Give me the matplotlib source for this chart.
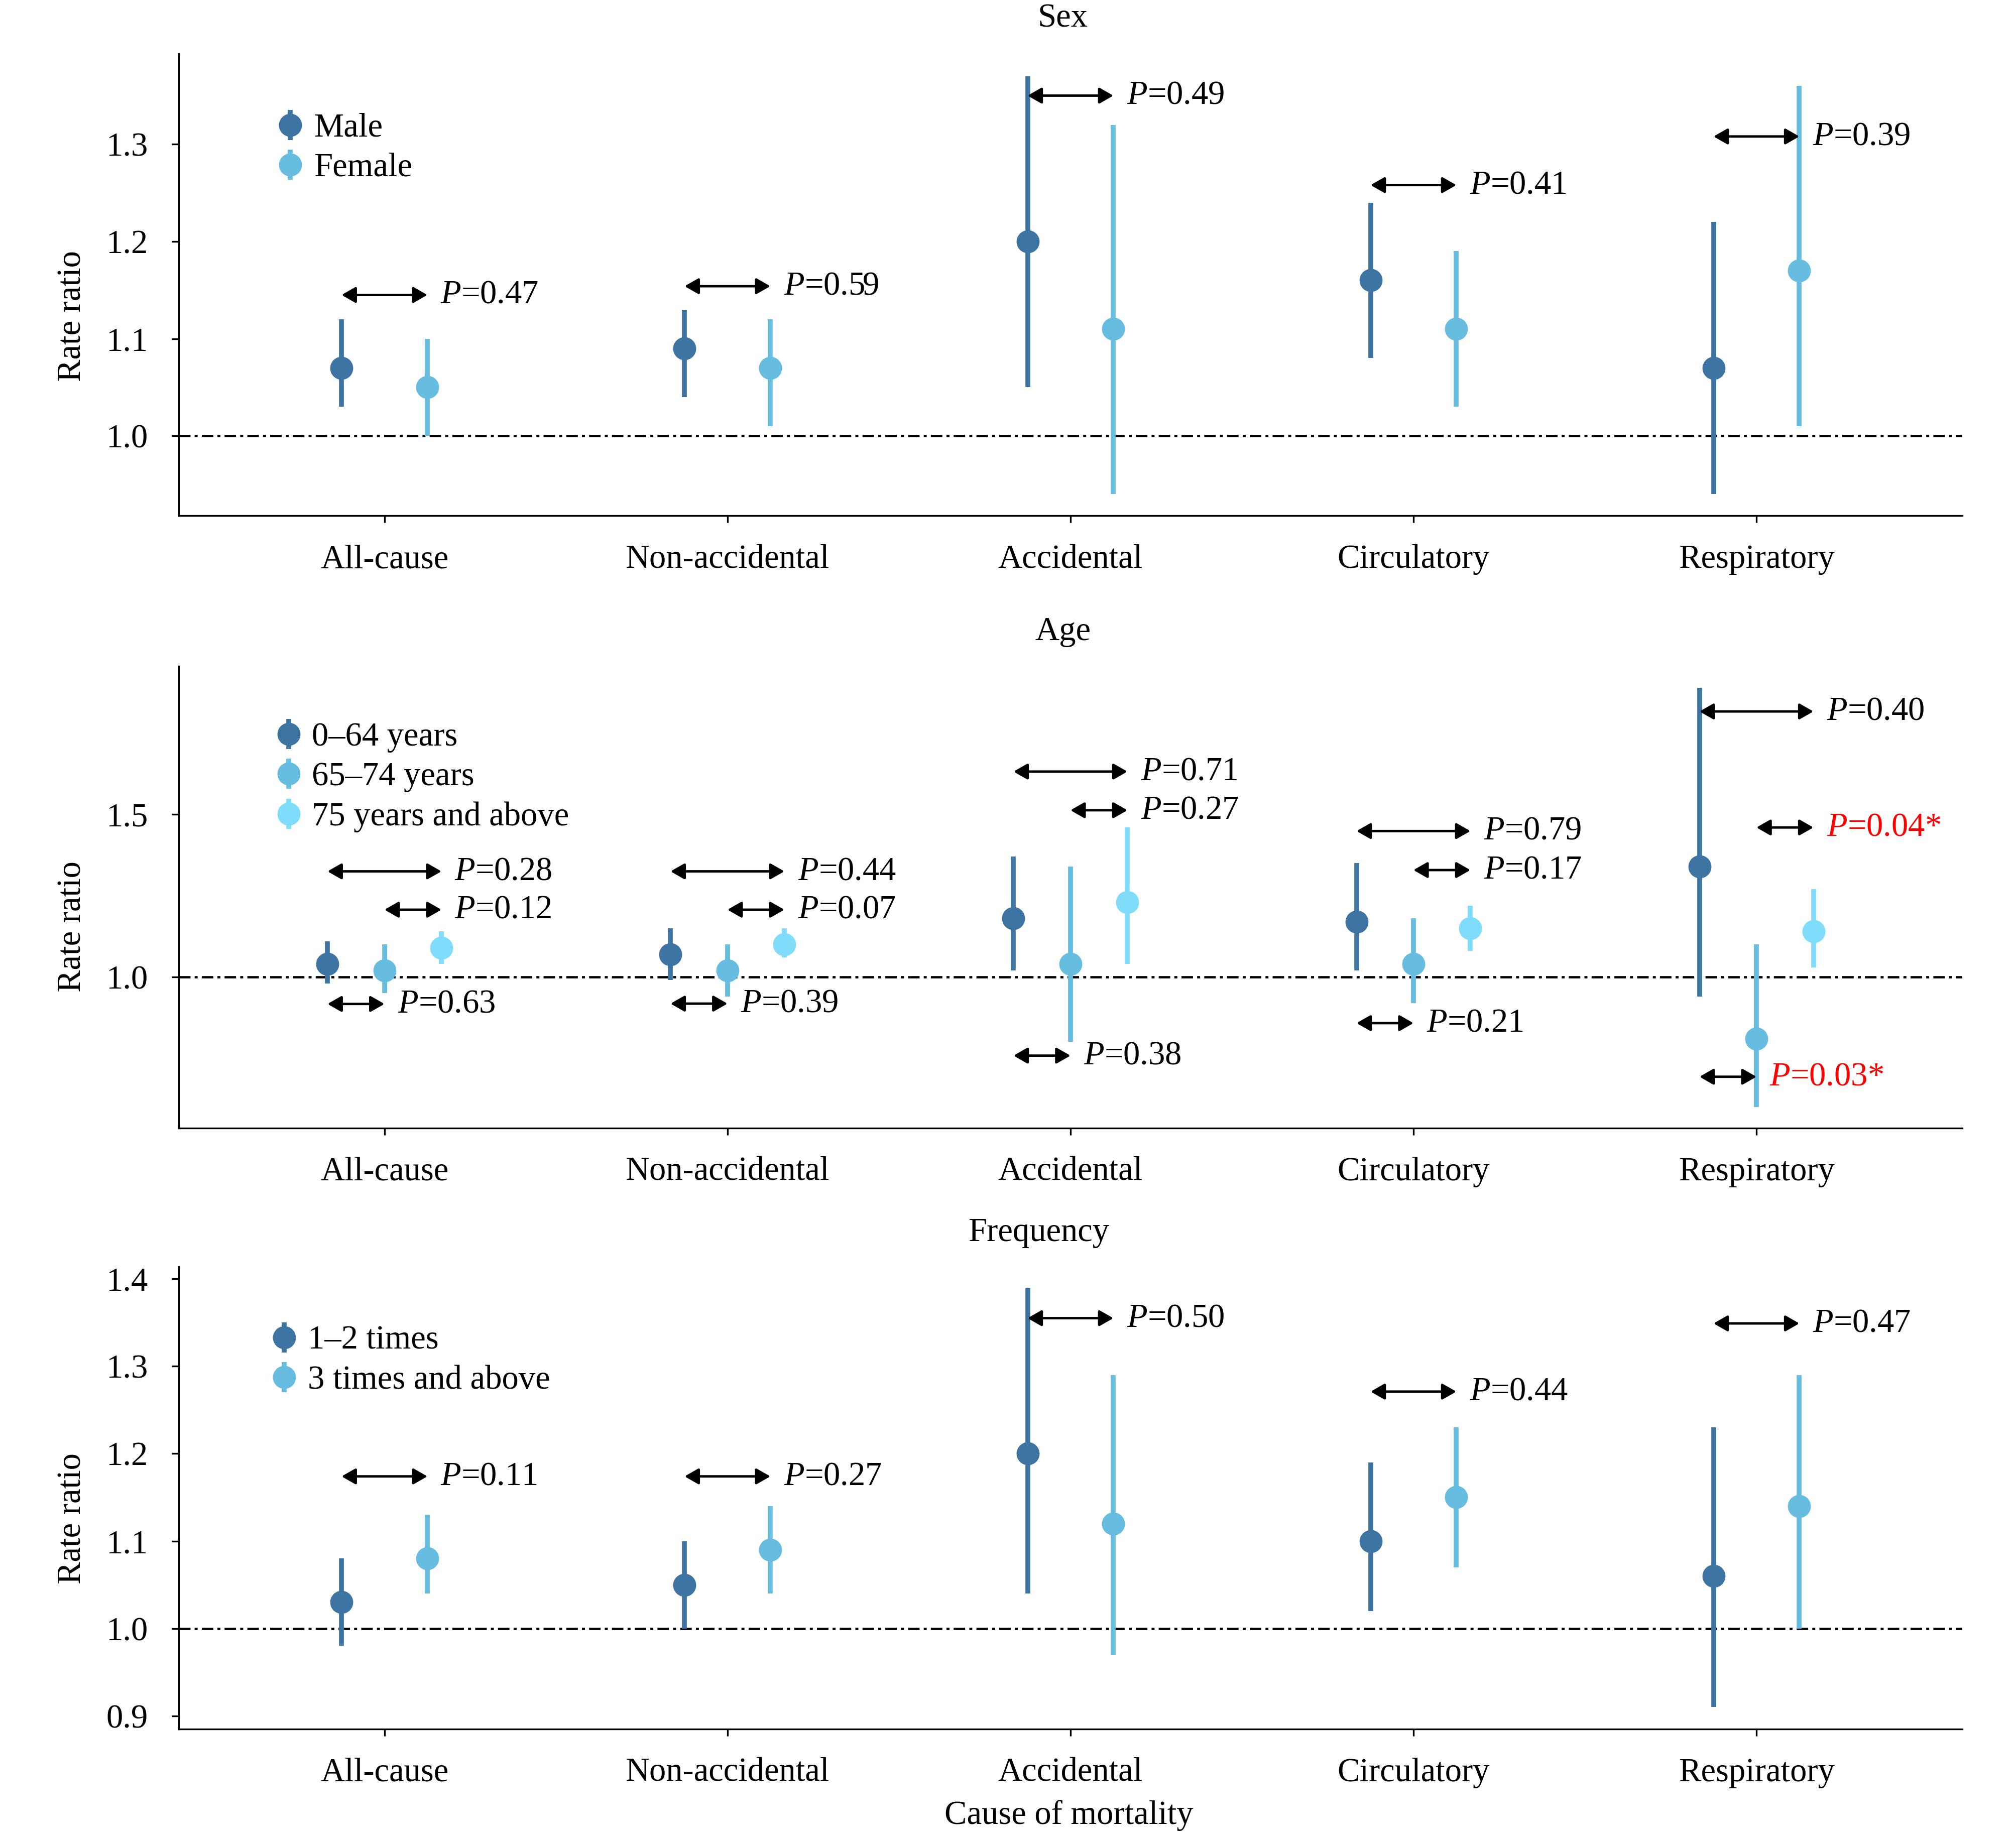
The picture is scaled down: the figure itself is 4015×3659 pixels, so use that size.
# rate ratio panels by sex, age and frequency
import matplotlib.pyplot as plt
from matplotlib.container import ErrorbarContainer
from matplotlib.legend_handler import HandlerErrorbar

plt.rcParams['font.family'] = ['Liberation Serif', 'DejaVu Serif']
plt.rcParams['mathtext.fontset'] = 'custom'
plt.rcParams['mathtext.rm'] = 'Liberation Serif'
plt.rcParams['mathtext.it'] = 'Liberation Serif:italic'

causes = ["All-cause", "Non-accidental", "Accidental", "Circulatory", "Respiratory"]

# sex
sex_groups = ["Male", "Female"]
sex_rr = [[1.07, 1.09, 1.20, 1.16, 1.07], [1.05, 1.07, 1.11, 1.11, 1.17]]
sex_lo = [[1.03, 1.04, 1.05, 1.08, 0.94], [1.00, 1.01, 0.94, 1.03, 1.01]]
sex_hi = [[1.12, 1.13, 1.37, 1.24, 1.22], [1.10, 1.12, 1.32, 1.19, 1.36]]
sex_p = ["0.47", "0.59", "0.49", "0.41", "0.39"]
sex_p_y = [1.145, 1.154, 1.35, 1.258, 1.308]

# age
age_groups = ["0\u201364 years", "65\u201374 years", "75 years and above"]
age_rr = [[1.04, 1.07, 1.18, 1.17, 1.34],
          [1.02, 1.02, 1.04, 1.04, 0.81],
          [1.09, 1.10, 1.23, 1.15, 1.14]]
age_lo = [[0.98, 0.99, 1.02, 1.02, 0.94],
          [0.95, 0.94, 0.80, 0.92, 0.60],
          [1.04, 1.06, 1.04, 1.08, 1.03]]
age_hi = [[1.11, 1.15, 1.37, 1.35, 1.89],
          [1.10, 1.10, 1.34, 1.18, 1.10],
          [1.14, 1.15, 1.46, 1.22, 1.27]]
# comparisons: (from group, to group)
age_pairs = [(0, 2), (1, 2), (0, 1)]
age_p = [["0.28", "0.44", "0.71", "0.79", "0.40"],
         ["0.12", "0.07", "0.27", "0.17", "0.04*"],
         ["0.63", "0.39", "0.38", "0.21", "0.03*"]]
age_p_y = [[1.325, 1.325, 1.632, 1.449, 1.817],
           [1.207, 1.207, 1.513, 1.329, 1.460],
           [0.917, 0.918, 0.758, 0.858, 0.693]]

# frequency
freq_groups = ["1\u20132 times", "3 times and above"]
freq_rr = [[1.03, 1.05, 1.20, 1.10, 1.06], [1.08, 1.09, 1.12, 1.15, 1.14]]
freq_lo = [[0.98, 1.00, 1.04, 1.02, 0.91], [1.04, 1.04, 0.97, 1.07, 1.00]]
freq_hi = [[1.08, 1.10, 1.39, 1.19, 1.23], [1.13, 1.14, 1.29, 1.23, 1.29]]
freq_p = ["0.11", "0.27", "0.50", "0.44", "0.47"]
freq_p_y = [1.174, 1.174, 1.355, 1.271, 1.349]

colors = ["#3e74a1", "#67bde0", "#7fdcfa"]
FS = 48


def panel(ax, groups, rr, lo, hi, offsets, ylim, yticks, leg_anchor, ylab_y):
    x = list(range(len(causes)))
    for g in range(len(groups)):
        xs = [xi + offsets[g] for xi in x]
        err = [[r - l for r, l in zip(rr[g], lo[g])], [h - r for r, h in zip(rr[g], hi[g])]]
        ax.errorbar(xs, rr[g], yerr=err, fmt='o', color=colors[g], ms=32,
                    elinewidth=7, capsize=0, label=groups[g], zorder=3)
    ax.axhline(1.0, color='black', lw=3.3, ls=(0, (5, 1.8, 1.3, 1.8)), zorder=1)
    ax.set_xlim(-0.6, 4.6)
    ax.set_ylim(*ylim)
    ax.set_yticks(yticks)
    ax.set_yticklabels([f"{t:.1f}" for t in yticks])
    ax.set_xticks(x)
    ax.set_xticklabels(causes)
    for s in ['top', 'right']:
        ax.spines[s].set_visible(False)
    for s in ['left', 'bottom']:
        ax.spines[s].set_linewidth(2.4)
    ax.tick_params(axis='both', labelsize=FS, length=10, width=2.4)
    ax.tick_params(axis='y', pad=34)
    ax.tick_params(axis='x', pad=31)
    ax.set_ylabel("Rate ratio", fontsize=FS)
    ax.yaxis.set_label_coords(-0.051, ylab_y)
    ax.legend(loc='upper left', bbox_to_anchor=leg_anchor, frameon=False, fontsize=FS,
              handlelength=0.6, handletextpad=0.4, borderpad=0, borderaxespad=0,
              labelspacing=0.27,
              handler_map={ErrorbarContainer: HandlerErrorbar(xerr_size=0.45)})


def p_arrow(ax, x0, x1, y, label):
    ax.annotate("", xy=(x0, y), xytext=(x1, y),
                arrowprops=dict(arrowstyle='<|-|>,head_length=0.35,head_width=0.2',
                                color='black', lw=3.5, shrinkA=0, shrinkB=0,
                                mutation_scale=FS))
    red = label.endswith("*")
    ax.annotate(r"$\mathit{P}$=" + label, xy=(x1, y), xytext=(19, 0),
                textcoords='offset points', va='center', ha='left', fontsize=FS,
                color='red' if red else 'black')


fig = plt.figure(figsize=(40.16, 36.59), dpi=100)
ax1 = fig.add_axes([0.0886, 0.7193, 0.8845, 0.2514])
ax2 = fig.add_axes([0.0886, 0.3859, 0.8845, 0.2514])
ax3 = fig.add_axes([0.0886, 0.0588, 0.8845, 0.2517])

off2 = [-0.125, 0.125]
off3 = [-0.166, 0.0, 0.166]

panel(ax1, sex_groups, sex_rr, sex_lo, sex_hi, off2, (0.918, 1.393),
      [1.0, 1.1, 1.2, 1.3], (0.057, 0.872), 0.432)
for i in range(len(causes)):
    p_arrow(ax1, i + off2[0], i + off2[1], sex_p_y[i], sex_p[i])

panel(ax2, age_groups, age_rr, age_lo, age_hi, off3, (0.535, 1.956),
      [1.0, 1.5], (0.056, 0.879), 0.436)
for k, (a, b) in enumerate(age_pairs):
    for i in range(len(causes)):
        p_arrow(ax2, i + off3[a], i + off3[b], age_p_y[k][i], age_p[k][i])

panel(ax3, freq_groups, freq_rr, freq_lo, freq_hi, off2, (0.885, 1.414),
      [0.9, 1.0, 1.1, 1.2, 1.3, 1.4], (0.0535, 0.873), 0.455)
for i in range(len(causes)):
    p_arrow(ax3, i + off2[0], i + off2[1], freq_p_y[i], freq_p[i])

fig.text(0.527, 0.990, "Sex", ha='center', va='center', fontsize=FS)
fig.text(0.527, 0.656, "Age", ha='center', va='center', fontsize=FS)
fig.text(0.515, 0.329, "Frequency", ha='center', va='center', fontsize=FS)
fig.text(0.530, 1 - 3616 / 3659, "Cause of mortality", ha='center', va='center', fontsize=FS)

fig.savefig('out.png', dpi=100)
